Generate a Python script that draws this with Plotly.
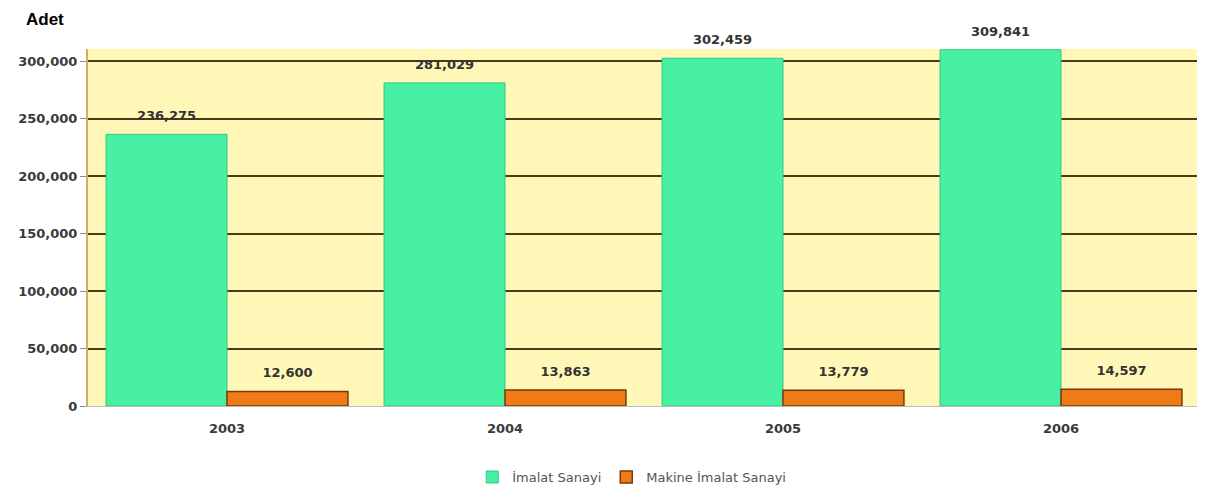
import plotly.graph_objects as go

years = ["2003", "2004", "2005", "2006"]
imalat = [236275, 281029, 302459, 309841]
makine = [12600, 13863, 13779, 14597]
tick_vals = [0, 50000, 100000, 150000, 200000, 250000, 300000]
tick_text = ["0", "50,000", "100,000", "150,000", "200,000", "250,000", "300,000"]

FONT_B = "DejaVu Sans"

def lbl(v):
    return f"<span style='font-size:13px'><b>{v:,}</b></span><br> "

fig = go.Figure()
fig.add_trace(go.Bar(
    x=years, y=imalat, name="İmalat Sanayi",
    marker=dict(color="#48F0A4", line=dict(color="#2CCB82", width=1)),
    text=[lbl(v) for v in imalat], textposition="outside",
    textfont=dict(family=FONT_B, size=7, color="#333333"),
    cliponaxis=False,
))
fig.add_trace(go.Bar(
    x=years, y=makine, name="Makine İmalat Sanayi",
    marker=dict(color="#EE7A18", line=dict(color="#7A3A08", width=1.5)),
    text=[lbl(v) for v in makine], textposition="outside",
    textfont=dict(family=FONT_B, size=7, color="#333333"),
    cliponaxis=False,
))

fig.update_layout(
    width=1205, height=494,
    margin=dict(l=80, r=13, t=41, b=96, autoexpand=False),
    paper_bgcolor="white",
    plot_bgcolor="#FFF7B8",
    barmode="group", bargap=0.13, bargroupgap=0,
    font=dict(family=FONT_B, size=13, color="#333333"),
    uniformtext=dict(mode=False),
    legend=dict(orientation="h", x=0.489, xanchor="center", y=-0.199, yanchor="middle",
                font=dict(family=FONT_B, size=13, color="#555555"), traceorder="normal",
                itemwidth=30, tracegroupgap=0),
    annotations=[dict(text="<b>Adet</b>", xref="paper", yref="paper", x=-0.0576, y=1.082,
                      xanchor="left", yanchor="middle", showarrow=False,
                      font=dict(family="Arial", size=17, color="black"))],
    showlegend=True,
)
fig.update_xaxes(
    automargin=False,
    tickfont=dict(family=FONT_B, size=13, color="#3a3a3a"),
    ticklabelstandoff=10,
    showline=True, linecolor="#BBBBBB", linewidth=1,
    tickprefix="<b>", ticksuffix="</b>",
)
fig.update_yaxes(
    automargin=False,
    range=[0, 310500], tickvals=tick_vals, ticktext=[f"<b>{t}</b>" for t in tick_text],
    tickfont=dict(family=FONT_B, size=13, color="#3a3a3a"),
    showgrid=True, gridcolor="#4A3A1A", gridwidth=2,
    zeroline=False,
    showline=True, linecolor="#C8B070", linewidth=2,
    ticks="outside", ticklen=6, tickcolor="#888888",
)
fig.write_html("out.html")
